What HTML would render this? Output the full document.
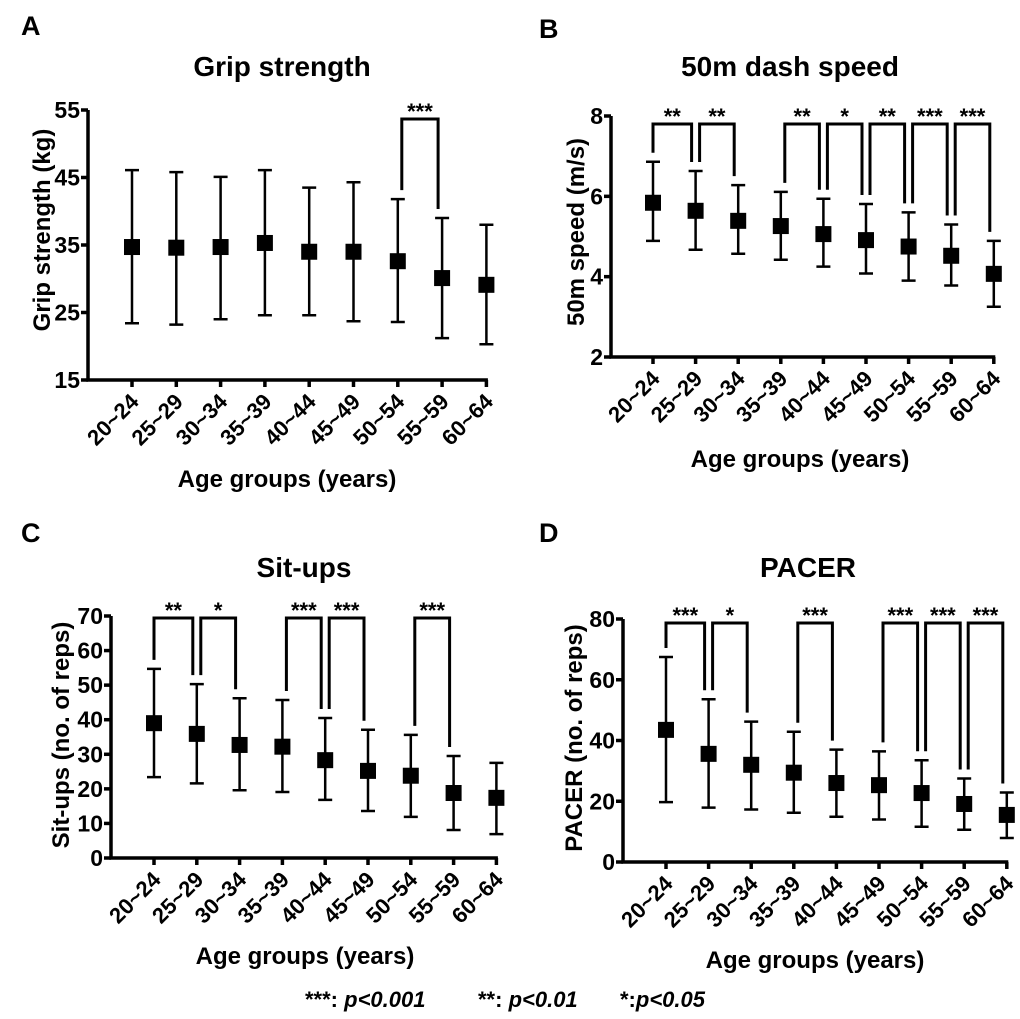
<!DOCTYPE html>
<html><head><meta charset="utf-8"><style>body{margin:0;background:#fff}svg{display:block;font-family:"Liberation Sans",Arial,sans-serif;font-weight:bold}</style></head>
<body>
<svg id="fig" width="1020" height="1019" viewBox="0 0 1020 1019" xmlns="http://www.w3.org/2000/svg">
<text x="21" y="35" font-size="27">A</text>
<text x="539" y="38" font-size="27">B</text>
<text x="21" y="542" font-size="27">C</text>
<text x="539" y="542" font-size="27">D</text>
<text x="282" y="76" font-size="28" text-anchor="middle">Grip strength</text>
<text x="790" y="76" font-size="28" text-anchor="middle">50m dash speed</text>
<text x="304" y="577" font-size="28" text-anchor="middle">Sit-ups</text>
<text x="808" y="577" font-size="28" text-anchor="middle">PACER</text>
<g font-size="22">
<text x="305" y="1007">***: <tspan font-style="italic">p&lt;0.001</tspan></text>
<text x="478" y="1007">**: <tspan font-style="italic">p&lt;0.01</tspan></text>
<text x="620" y="1007">*:<tspan font-style="italic">p&lt;0.05</tspan></text>
</g>
</svg>
<script>
const categories = ["20~24","25~29","30~34","35~39","40~44","45~49","50~54","55~59","60~64"];
const gripMean = [34.7,34.6,34.7,35.3,34.0,34.0,32.6,30.1,29.1];
const gripUpper = [46.1,45.8,45.1,46.1,43.5,44.3,41.8,39.0,38.0];
const gripLower = [23.4,23.2,24.0,24.6,24.6,23.7,23.6,21.2,20.3];
const gripTicks = [15,25,35,45,55];
const gripSig = [[6,7,"***"]];
const dashMean = [5.84,5.64,5.39,5.26,5.06,4.91,4.75,4.52,4.07];
const dashUpper = [6.86,6.63,6.28,6.11,5.94,5.81,5.60,5.30,4.89];
const dashLower = [4.89,4.67,4.57,4.42,4.25,4.08,3.90,3.78,3.25];
const dashTicks = [2,4,6,8];
const dashSig = [[0,1,"**"],[1,2,"**"],[3,4,"**"],[4,5,"*"],[5,6,"**"],[6,7,"***"],[7,8,"***"]];
const situpMean = [39.0,35.9,32.7,32.2,28.3,25.2,23.8,18.8,17.4];
const situpUpper = [54.7,50.3,46.2,45.7,40.5,37.1,35.6,29.5,27.5];
const situpLower = [23.4,21.6,19.6,19.1,16.8,13.6,11.9,8.1,6.9];
const situpTicks = [0,10,20,30,40,50,60,70];
const situpSig = [[0,1,"**"],[1,2,"*"],[3,4,"***"],[4,5,"***"],[6,7,"***"]];
const pacerMean = [43.5,35.6,32.0,29.4,26.0,25.3,22.7,19.1,15.5];
const pacerUpper = [67.5,53.6,46.2,42.9,37.0,36.4,33.5,27.5,22.9];
const pacerLower = [19.7,17.9,17.3,16.2,14.9,14.0,11.6,10.6,7.9];
const pacerTicks = [0,20,40,60,80];
const pacerSig = [[0,1,"***"],[1,2,"*"],[3,4,"***"],[5,6,"***"],[6,7,"***"],[7,8,"***"]];

const NS="http://www.w3.org/2000/svg";
const svg=document.getElementById('fig');
function mk(tag,attrs,parent){const e=document.createElementNS(NS,tag);for(const k in attrs)e.setAttribute(k,attrs[k]);(parent||svg).appendChild(e);return e;}

function panel(p){
  const g=mk('g',{});
  
  
  const ymin=p.ticks[0], ymax=p.ticks[p.ticks.length-1];
  const y=v=>p.y0-(v-ymin)/(ymax-ymin)*(p.y0-p.y1);
  const x=i=>p.xf+i*p.dx;
  const xEnd=x(categories.length-1);
  const ax=mk('path',{d:`M${p.ax} ${p.y1}V${p.y0}H${xEnd+1.5}`,fill:'none',stroke:'#000','stroke-width':3.5},g);
  
  
  p.ticks.forEach(t=>{
    const tk=mk('line',{x1:p.ax-7,x2:p.ax,y1:y(t),y2:y(t),stroke:'#000','stroke-width':3.5},g);
    
    
    const tl=mk('text',{x:p.ax-8,y:y(t)+8,'font-size':23,'text-anchor':'end'},g);
    tl.textContent=t;
    
    
  });
  categories.forEach((c,i)=>{
    const tk=mk('line',{x1:x(i),x2:x(i),y1:p.y0,y2:p.y0+7,stroke:'#000','stroke-width':3.5},g);
    
    
    const tl=mk('text',{x:0,y:0,'font-size':22,'text-anchor':'end',transform:`translate(${x(i)+8},${p.y0+23}) rotate(-45)`},g);
    tl.textContent=c;
    
    
    const eb=mk('path',{d:`M${x(i)-7} ${y(p.up[i])}H${x(i)+7}M${x(i)} ${y(p.up[i])}V${y(p.lo[i])}M${x(i)-7} ${y(p.lo[i])}H${x(i)+7}`,fill:'none',stroke:'#000','stroke-width':2.5},g);
    
    
    const m=mk('rect',{x:x(i)-8,y:y(p.mean[i])-8,width:16,height:16,fill:'#000'},g);
    
    
  });
  p.sig.forEach(s=>{
    const a=s[0],b=s[1];
    const xl=x(a)+(a>0?4:0), xr=x(b)-4;
    const br=mk('path',{d:`M${xl} ${y(p.up[a])-9}V${p.top}H${xr}V${y(p.up[b])-9}`,fill:'none',stroke:'#000','stroke-width':3},g);
    
    
    const st=mk('text',{x:(xl+xr)/2,y:p.top,'font-size':22,'text-anchor':'middle'},g);
    st.textContent=s[2];
    
    
  });
  const yt=mk('text',{x:0,y:0,'font-size':24,'text-anchor':'middle',transform:`translate(${p.ytx},${p.yty}) rotate(-90)`},g);
  yt.textContent=p.ytitle;
  
  
  const xt=mk('text',{x:p.xtx,y:p.xty,'font-size':24,'text-anchor':'middle'},g);
  xt.textContent='Age groups (years)';
  
  
}
panel({name:'grip',ax:88,y0:380,y1:110,xf:132,dx:44.3,ticks:gripTicks,mean:gripMean,up:gripUpper,lo:gripLower,sig:gripSig,top:119,ytitle:'Grip strength (kg)',ytx:50,yty:230,xtx:287,xty:487});
panel({name:'dash',ax:611,y0:357,y1:116,xf:653,dx:42.6,ticks:dashTicks,mean:dashMean,up:dashUpper,lo:dashLower,sig:dashSig,top:124,ytitle:'50m speed (m/s)',ytx:584,yty:232,xtx:800,xty:467});
panel({name:'situps',ax:111,y0:858,y1:616,xf:154,dx:42.8,ticks:situpTicks,mean:situpMean,up:situpUpper,lo:situpLower,sig:situpSig,top:618,ytitle:'Sit-ups (no. of reps)',ytx:69,yty:735,xtx:305,xty:964});
panel({name:'pacer',ax:623,y0:862,y1:619,xf:666,dx:42.6,ticks:pacerTicks,mean:pacerMean,up:pacerUpper,lo:pacerLower,sig:pacerSig,top:623,ytitle:'PACER (no. of reps)',ytx:582,yty:738,xtx:815,xty:968});
</script>
</body></html>
